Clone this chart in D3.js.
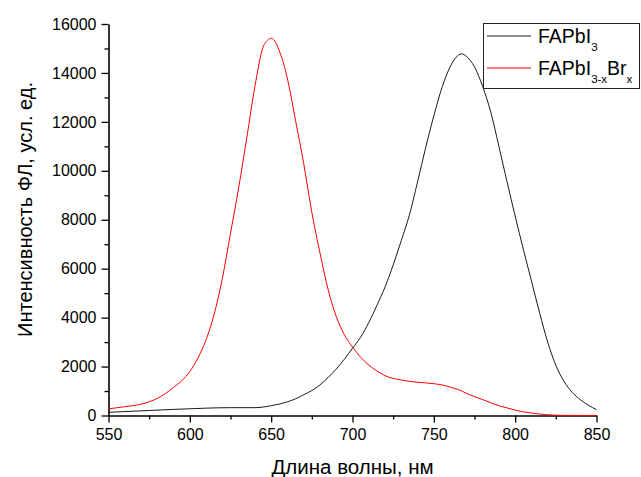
<!DOCTYPE html>
<html>
<head>
<meta charset="utf-8">
<script src="https://cdn.jsdelivr.net/npm/d3@7"></script>
<style>
  body { margin: 0; background: #fff; }
  svg { display: block; font-family: "Liberation Sans", Arial, sans-serif; }
  .axis path, .axis line { stroke: #000; }
  .axis text { font-size: 16px; fill: #000; }
</style>
</head>
<body>
<svg id="chart" width="641" height="477"></svg>
<script>
// wavelength, nm / intensity, a.u.
var blackX = [550, 560, 575, 590, 600, 610, 625, 640, 650, 660, 665, 670, 675, 680, 685, 690, 695, 700, 705, 710, 715, 720, 725, 730, 735, 740, 745, 750, 755, 760, 765, 767, 770, 775, 780, 785, 790, 795, 800, 805, 810, 815, 820, 825, 830, 835, 840, 845, 850];
var blackY = [130, 160, 205, 250, 275, 300, 320, 320, 400, 560, 680, 850, 1020, 1250, 1550, 1900, 2300, 2750, 3200, 3800, 4500, 5250, 6150, 7150, 8200, 9550, 10950, 12250, 13400, 14250, 14720, 14780, 14680, 14250, 13450, 12400, 11000, 9550, 8150, 6800, 5500, 4200, 3000, 2050, 1400, 950, 650, 420, 240];

var redX = [550, 560, 570, 575, 580, 585, 590, 595, 600, 605, 610, 615, 620, 625, 630, 635, 640, 645, 648, 650, 652, 655, 658, 661, 665, 670, 675, 680, 685, 690, 695, 700, 705, 710, 715, 720, 730, 740, 750, 755, 760, 765, 770, 775, 780, 785, 790, 795, 800, 805, 810, 815, 820, 830, 850];
var redY = [270, 360, 460, 560, 700, 900, 1150, 1420, 1800, 2350, 3100, 4150, 5600, 7450, 9300, 11350, 13450, 15050, 15350, 15420, 15330, 14900, 14300, 13450, 12050, 10300, 8300, 6650, 5150, 4050, 3300, 2800, 2380, 2060, 1820, 1630, 1450, 1360, 1300, 1250, 1160, 1060, 910, 770, 650, 520, 400, 310, 220, 150, 100, 60, 30, 5, 0];

var xTicks = [550, 600, 650, 700, 750, 800, 850];
var xMinor = [575, 625, 675, 725, 775, 825];
var yTicks = [0, 2000, 4000, 6000, 8000, 10000, 12000, 14000, 16000];
var yMinor = [1000, 3000, 5000, 7000, 9000, 11000, 13000, 15000];

var seriesNames = ["FAPbI", "FAPbI"];
var seriesColors = ["#1a1a1a", "#ff0000"];

var svg = d3.select("#chart");
var x = d3.scaleLinear().domain([550, 850]).range([108.5, 596.5]);
var y = d3.scaleLinear().domain([0, 16000]).range([415.5, 24]);

// minor ticks
svg.append("g").attr("class", "axis")
  .attr("transform", "translate(0," + y(0) + ")")
  .call(d3.axisBottom(x).tickValues(xMinor).tickSize(4).tickFormat(""))
  .call(function(g) { g.select(".domain").remove(); });
svg.append("g").attr("class", "axis")
  .attr("transform", "translate(" + x(550) + ",0)")
  .call(d3.axisLeft(y).tickValues(yMinor).tickSize(4).tickFormat(""))
  .call(function(g) { g.select(".domain").remove(); });

// major ticks
svg.append("g").attr("class", "axis")
  .attr("transform", "translate(0," + y(0) + ")")
  .call(d3.axisBottom(x).tickValues(xTicks).tickSize(7).tickSizeOuter(0).tickPadding(6).tickFormat(d3.format("d")));
svg.append("g").attr("class", "axis")
  .attr("transform", "translate(" + x(550) + ",0)")
  .call(d3.axisLeft(y).tickValues(yTicks).tickSize(7).tickSizeOuter(0).tickPadding(5).tickFormat(d3.format("d")));
svg.selectAll(".axis path.domain").attr("stroke-width", 1.6);
svg.selectAll(".axis line").attr("stroke-width", 1.3);

// curves
var line = d3.line().x(function(d) { return x(d[0]); }).y(function(d) { return y(d[1]); })
  .curve(d3.curveMonotoneX);
svg.append("path").datum(d3.zip(blackX, blackY))
  .attr("d", line).attr("fill", "none").attr("stroke", seriesColors[0]).attr("stroke-width", 1);
svg.append("path").datum(d3.zip(redX, redY))
  .attr("d", line).attr("fill", "none").attr("stroke", seriesColors[1]).attr("stroke-width", 1);

// axis titles
svg.append("text").attr("x", 352.5).attr("y", 474).attr("text-anchor", "middle")
  .attr("font-size", 20.5).text("Длина волны, нм");
svg.append("text").attr("transform", "translate(32,209.5) rotate(-90)").attr("text-anchor", "middle")
  .attr("font-size", 20).text("Интенсивность ФЛ, усл. ед.");

// legend
var legend = svg.append("g");
legend.append("rect").attr("x", 483.5).attr("y", 23.5).attr("width", 156).attr("height", 65)
  .attr("fill", "#fff").attr("stroke", "#222").attr("stroke-width", 1);
[0, 1].forEach(function(i) {
  var ly = 36 + i * 32;
  legend.append("line").attr("x1", 487).attr("x2", 531).attr("y1", ly).attr("y2", ly)
    .attr("stroke", seriesColors[i]).attr("stroke-width", 1);
  var t = legend.append("text").attr("x", 538).attr("y", ly + 7).attr("font-size", 19.5);
  t.append("tspan").text(seriesNames[i]);
  if (i === 0) {
    t.append("tspan").attr("dy", 8).attr("font-size", 11.5).text("3");
  } else {
    t.append("tspan").attr("dy", 8).attr("font-size", 11.5).text("3-x");
    t.append("tspan").attr("dy", -8).text("Br");
    t.append("tspan").attr("dy", 8).attr("font-size", 11.5).text("x");
  }
});
</script>
</body>
</html>
